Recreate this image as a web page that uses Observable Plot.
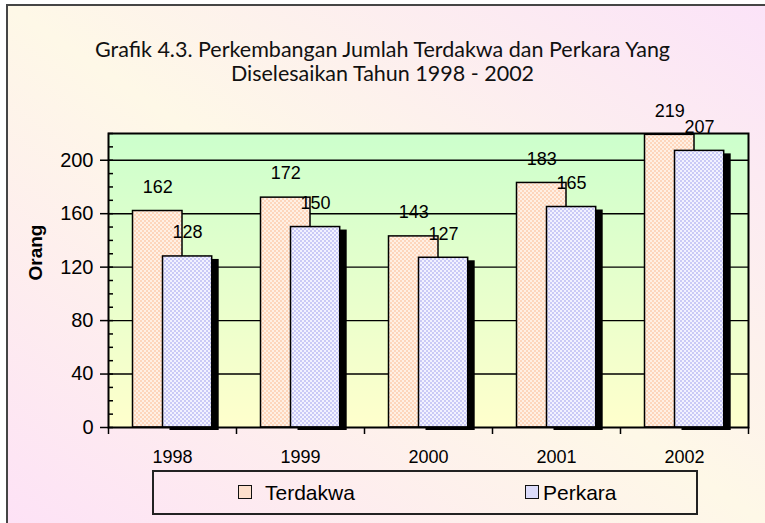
<!DOCTYPE html>
<html><head><meta charset="utf-8">
<script src="https://cdn.jsdelivr.net/npm/d3@7"></script>
<script src="https://cdn.jsdelivr.net/npm/@observablehq/plot@0.6"></script>
<style>
body{margin:0;background:#fff;}
#wrap{position:relative;width:765px;height:523px;overflow:hidden;font-family:"Liberation Sans",Arial,sans-serif;}
#bg{position:absolute;left:6px;top:4px;width:759px;height:519px;box-sizing:border-box;border-left:2px solid #454545;border-top:2px solid #454545;background:linear-gradient(to top right,#FDE2F6 0%,#FEF8E7 50%,#FBE3F8 100%);}
#title{position:absolute;left:0;top:37px;width:765px;text-align:center;font-family:Lato,"DejaVu Sans",sans-serif;font-size:21.5px;line-height:24px;color:#111;}
#chart{position:absolute;left:0;top:0;}
#legend{position:absolute;left:152px;top:470px;width:546px;height:45px;box-sizing:border-box;border:2px solid #222;}
.sw{position:absolute;top:13px;width:14px;height:14px;box-sizing:border-box;border:1.5px solid #111;}
.lt{position:absolute;top:8px;font-size:21px;line-height:26px;color:#000;}
</style></head>
<body>
<div id="wrap">
  <div id="bg"></div>
  <div id="title">Grafik 4.3. Perkembangan Jumlah Terdakwa dan Perkara Yang<br>Diselesaikan Tahun 1998 - 2002</div>
  <div id="chart"></div>
  <div id="legend">
    <div class="sw" style="left:84px;background:#FDE0CC"></div><div class="lt" style="left:111px">Terdakwa</div>
    <div class="sw" style="left:371px;background:#DCDCFA"></div><div class="lt" style="left:389px">Perkara</div>
  </div>
</div>
<script>
const years = ["1998", "1999", "2000", "2001", "2002"];
const terdakwa = [162, 172, 143, 183, 219];
const perkara = [128, 150, 127, 165, 207];
const yTicks = [0, 40, 80, 120, 160, 200];
const yMinorTicks = [0, 10, 20, 30, 40, 50, 60, 70, 80, 90, 100, 110, 120, 130, 140, 150, 160, 170, 180, 190, 200, 210, 220];
const yLabel = "Orang";

const rowsT = years.map((y, i) => ({year: y, value: terdakwa[i]}));
const rowsP = years.map((y, i) => ({year: y, value: perkara[i]}));

const tIns = {insetLeft: 24.5, insetRight: 54};
const pIns = {insetLeft: 54.5, insetRight: 24.3};

const svg = Plot.plot({
  width: 765,
  height: 523,
  marginLeft: 108,
  marginRight: 17,
  marginTop: 133,
  marginBottom: 96,
  style: {background: "transparent", fontFamily: "'Liberation Sans', Arial, sans-serif", color: "#000", overflow: "visible"},
  x: {type: "band", domain: years, padding: 0},
  y: {domain: [0, 220]},
  marks: [
    Plot.frame({fill: "url(#plotgrad)"}),
    Plot.gridY(yTicks.filter(d => d > 0), {stroke: "#000", strokeOpacity: 1, strokeWidth: 1.4}),
    Plot.barY(rowsP, {x: "year", y: "value", fill: "#000", dx: 7, dy: 3, ...pIns}),
    Plot.barY(rowsT, {x: "year", y: "value", fill: "url(#patT)", stroke: "#000", strokeWidth: 1.5, ...tIns}),
    Plot.barY(rowsP, {x: "year", y: "value", fill: "url(#patP)", stroke: "#000", strokeWidth: 1.5, ...pIns}),
    Plot.frame({stroke: "#000", strokeWidth: 2}),
    Plot.text(rowsT, {x: "year", y: "value", text: d => String(d.value), dx: -(tIns.insetRight - tIns.insetLeft) / 2, dy: -24, fontSize: 18, fill: "#000"}),
    Plot.text(rowsP, {x: "year", y: "value", text: d => String(d.value), dx: (pIns.insetLeft - pIns.insetRight) / 2, dy: -24, fontSize: 18, fill: "#000"}),
    Plot.axisY({ticks: yTicks, tickSize: 8, tickPadding: 7, fontSize: 20, label: null, strokeWidth: 1.5}),
    Plot.axisY({ticks: yMinorTicks, tickSize: 5, dx: 5, text: null, label: null, strokeWidth: 1.5}),
    Plot.axisX({tickSize: 7, dx: -64, text: null, label: null, strokeWidth: 1.5}),
    Plot.axisX({ticks: [years[years.length - 1]], tickSize: 7, dx: 64, text: null, label: null, strokeWidth: 1.5}),
    Plot.axisX({tickSize: 0, tickPadding: 23, fontSize: 18, label: null}),
    Plot.text([yLabel], {frameAnchor: "left", text: d => d, rotate: -90, dx: -73, fontSize: 19, fontWeight: "bold", fill: "#000"})
  ]
});

const defs = d3.select(svg).insert("defs", ":first-child");
const g = defs.append("linearGradient").attr("id", "plotgrad").attr("x1", 0).attr("y1", 0).attr("x2", 0).attr("y2", 1);
g.append("stop").attr("offset", "0%").attr("stop-color", "#CCFFCC");
g.append("stop").attr("offset", "100%").attr("stop-color", "#FFFFCC");
function pattern(id, base, dark) {
  const p = defs.append("pattern").attr("id", id).attr("width", 4).attr("height", 4).attr("patternUnits", "userSpaceOnUse");
  p.append("rect").attr("width", 4).attr("height", 4).attr("fill", base);
  p.append("rect").attr("width", 2).attr("height", 2).attr("fill", dark);
  p.append("rect").attr("x", 2).attr("y", 2).attr("width", 2).attr("height", 2).attr("fill", dark);
}
pattern("patT", "#FFF0E4", "#FDD6BC");
pattern("patP", "#F2F2FF", "#CACAF6");

document.getElementById("chart").appendChild(svg);
</script>
</body></html>
